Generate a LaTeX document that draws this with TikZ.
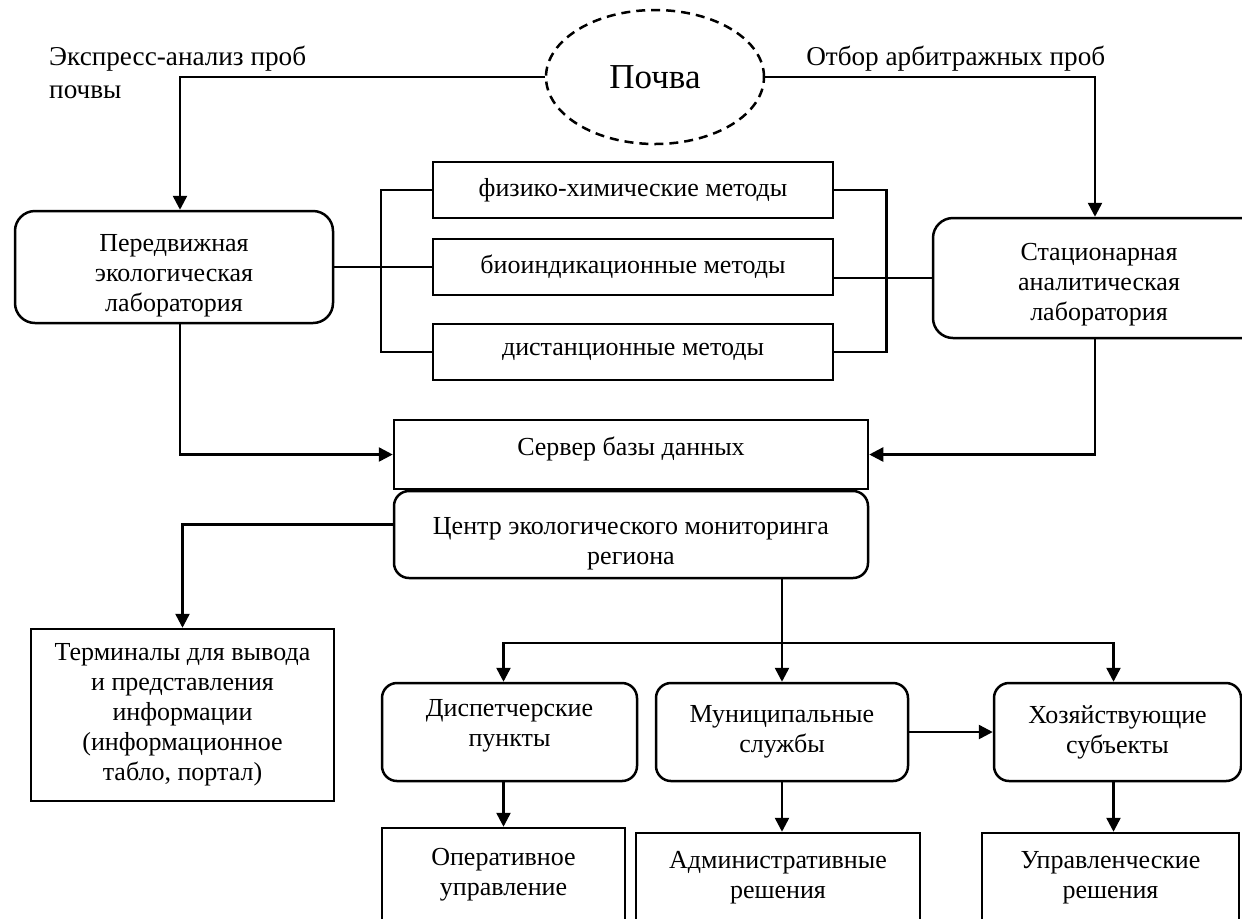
\documentclass[tikz,border=0pt]{standalone}
\usepackage{fontspec}
\setmainfont{Liberation Serif}
\usetikzlibrary{shapes.geometric,arrows.meta}

% invisible struts to nudge text inside a box
\newcommand{\padtop}[1]{\rule{0pt}{#1}}
\newcommand{\padbot}[1]{\rule[-#1]{0pt}{#1}}

\begin{document}
\begin{tikzpicture}[x=0.5pt,y=-0.5pt,line width=1.25pt,
    font=\fontsize{13}{15}\selectfont,
    box/.style={draw,rectangle,align=center,inner sep=0pt},
    rbox/.style={box,rounded corners=7.5pt},
    arr/.style={-{Triangle[length=7pt,width=7pt]}},
    dblarr/.style={{Triangle[length=7pt,width=7pt]}-{Triangle[length=7pt,width=7pt]}}]
  \useasboundingbox (0,0) rectangle (1242,918);
  % soil and the two sampling routes
  \node[draw,ellipse,dash pattern=on 4.5pt off 3pt,inner sep=0pt,
    minimum width=109pt,minimum height=67pt,
    font=\fontsize{17.5}{20}\selectfont] (soil) at (655,77) {Почва};
  \node[anchor=north west,align=left,inner sep=0pt,
    font=\fontsize{13.6}{16.5}\selectfont] (express) at (48,45)
    {Экспресс-анализ проб\\почвы};
  \node[anchor=base west,inner sep=0pt,
    font=\fontsize{13.6}{16.5}\selectfont] (arbitr) at (805,65)
    {Отбор арбитражных проб};
  \node[rbox,rounded corners=10pt,minimum width=159pt,minimum height=56pt] (mob)
    at (174,267) {\padtop{17.5pt}Передвижная\\экологическая\\лаборатория};
  \node[rbox,rounded corners=10pt,minimum width=166pt,minimum height=60pt] (stat)
    at (1099,278) {\padtop{15pt}Стационарная\\аналитическая\\лаборатория};
  \draw[arr] (soil.west) -| ([xshift=3pt]mob.north);
  \draw[arr] (soil.east) -| ([xshift=-2pt]stat.north);

  % methods
  \node[box,minimum width=200pt,minimum height=28pt] (phys) at (633,190)
    {физико-химические методы};
  \node[box,minimum width=200pt,minimum height=28pt] (bio) at (633,267)
    {биоиндикационные методы};
  \node[box,minimum width=200pt,minimum height=28pt] (dist) at (633,352)
    {дистанционные методы};
  \draw (mob.east) -- (bio.west);
  \draw (phys.west) -- ++(-51,0) |- (dist.west);
  \draw (phys.east) -- ++(52,0) |- (dist.east);
  \draw (stat.west) -- (stat.west -| phys.east);

  % data server and monitoring centre
  \node[box,minimum width=237pt,minimum height=34.5pt] (server) at (631,454.5)
    {Сервер базы данных\padbot{8.6pt}};
  \node[rbox,minimum width=237pt,minimum height=43.5pt] (centre) at (631,534.5)
    {\padtop{18pt}Центр экологического мониторинга\\региона};
  \draw[arr] ([xshift=3pt]mob.south) |- (server.west);
  \draw[arr] ([xshift=-2pt]stat.south) |- (server.east);
  \node[box,minimum width=151.5pt,minimum height=86pt] (term) at (182.5,715)
    {Терминалы для вывода\\и представления\\информации\\(информационное\\табло, портал)};
  \draw[arr] ([yshift=5pt]centre.west) -| (term.north);

  % users of the data
  \node[rbox,minimum width=127.5pt,minimum height=49pt] (disp) at (509.5,732)
    {Диспетчерские\\пункты\padbot{8.8pt}};
  \node[rbox,minimum width=126pt,minimum height=49pt] (mun) at (782,732)
    {Муниципальные\\службы};
  \node[rbox,minimum width=123.5pt,minimum height=49pt] (hoz) at (1117.5,732)
    {Хозяйствующие\\субъекты};
  \coordinate (split) at (782,643);
  \draw[arr] (centre.south -| mun.north) -- (mun.north);
  \draw[dblarr] ([xshift=-3pt]disp.north) |- (split) -| ([xshift=-2pt]hoz.north);
  \draw[arr] (mun.east) -- (hoz.west);

  % decisions
  \node[box,minimum width=121.5pt,minimum height=47pt] (oper) at (503.5,875)
    {Оперативное\\управление};
  \node[box,minimum width=142pt,minimum height=44.5pt] (admin) at (778,877.5)
    {Административные\\решения};
  \node[box,minimum width=128.5pt,minimum height=44.5pt] (upr) at (1110.5,877.5)
    {Управленческие\\решения};
  \draw[arr] (disp.south -| oper.north) -- (oper.north);
  \draw[arr] (mun.south) -- (mun.south |- admin.north);
  \draw[arr] ([xshift=-2pt]hoz.south) -- ([xshift=-2pt]hoz.south |- upr.north);
\end{tikzpicture}
\end{document}
